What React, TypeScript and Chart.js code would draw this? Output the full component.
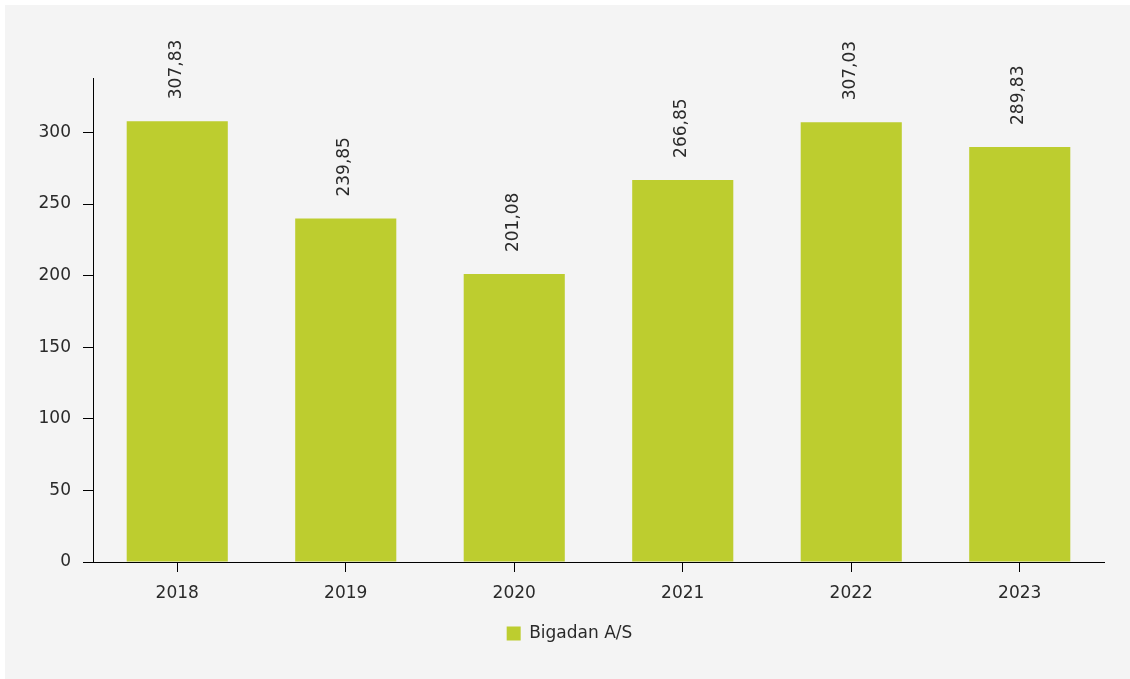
import React, { useEffect, useRef } from "react";
import { Chart, registerables } from "chart.js";

Chart.register(...registerables);

const categories = ["2018", "2019", "2020", "2021", "2022", "2023"];
const values = [307.83, 239.85, 201.08, 266.85, 307.03, 289.83];
const seriesName = "Bigadan A/S";
const yTicks = [0, 50, 100, 150, 200, 250, 300];

const FONT = "'DejaVu Sans', Verdana, sans-serif";
const BAR = "#bdcd2f";
const TEXT = "#2a2a2a";

const valueLabels = {
  id: "valueLabels",
  afterDatasetsDraw(chart: any) {
    const ctx = chart.ctx;
    const meta = chart.getDatasetMeta(0);
    ctx.save();
    ctx.font = `17px ${FONT}`;
    ctx.fillStyle = TEXT;
    ctx.textAlign = "left";
    ctx.textBaseline = "middle";
    meta.data.forEach((el: any, i: number) => {
      const txt = values[i].toFixed(2).replace(".", ",");
      ctx.save();
      ctx.translate(el.x - 1, el.y - 22);
      ctx.rotate(-Math.PI / 2);
      ctx.fillText(txt, 0, 0);
      ctx.restore();
    });
    ctx.restore();
  },
};

export default function App() {
  const ref = useRef<HTMLCanvasElement | null>(null);
  useEffect(() => {
    if (!ref.current) return;
    const chart = new Chart(ref.current, {
      type: "bar",
      data: {
        labels: categories,
        datasets: [
          {
            label: seriesName,
            data: values,
            backgroundColor: BAR,
            borderWidth: 0,
            barPercentage: 0.6,
            categoryPercentage: 1,
          },
        ],
      },
      plugins: [valueLabels],
      options: {
        animation: false,
        responsive: false,
        maintainAspectRatio: false,
        layout: { padding: { top: 73, left: 30, right: 26, bottom: 27 } },
        plugins: {
          tooltip: { enabled: false },
          legend: {
            display: true,
            position: "bottom",
            labels: {
              boxWidth: 14,
              boxHeight: 14,
              padding: 10,
              color: TEXT,
              font: { family: FONT, size: 17 },
            },
          },
        },
        scales: {
          x: {
            grid: {
              display: true,
              drawOnChartArea: false,
              drawTicks: true,
              tickLength: 10,
              color: "#000",
              offset: false,
            },
            border: { display: true, color: "#000", width: 1 },
            ticks: {
              color: TEXT,
              padding: 11,
              font: { family: FONT, size: 17 },
              maxRotation: 0,
            },
            afterFit(scale: any) {
              scale.height = 53;
            },
          },
          y: {
            min: 0,
            max: 338,
            grid: {
              display: true,
              drawOnChartArea: false,
              drawTicks: true,
              tickLength: 10,
              color: "#000",
            },
            border: { display: true, color: "#000", width: 1 },
            ticks: {
              stepSize: 50,
              color: TEXT,
              padding: 12,
              font: { family: FONT, size: 17 },
            },
            afterBuildTicks(scale: any) {
              scale.ticks = yTicks.map((v) => ({ value: v }));
            },
            afterFit(scale: any) {
              scale.width = 58;
            },
          },
        },
      },
    });
    return () => chart.destroy();
  }, []);

  return (
    <div
      style={{
        position: "fixed",
        left: 0,
        top: 0,
        width: 1130,
        height: 679,
        background: "#ffffff",
      }}
    >
      <div
        style={{
          position: "absolute",
          left: 5,
          top: 5,
          width: 1125,
          height: 674,
          background: "#f4f4f4",
        }}
      >
        <canvas ref={ref} width={1125} height={674} style={{ display: "block" }} />
      </div>
    </div>
  );
}
